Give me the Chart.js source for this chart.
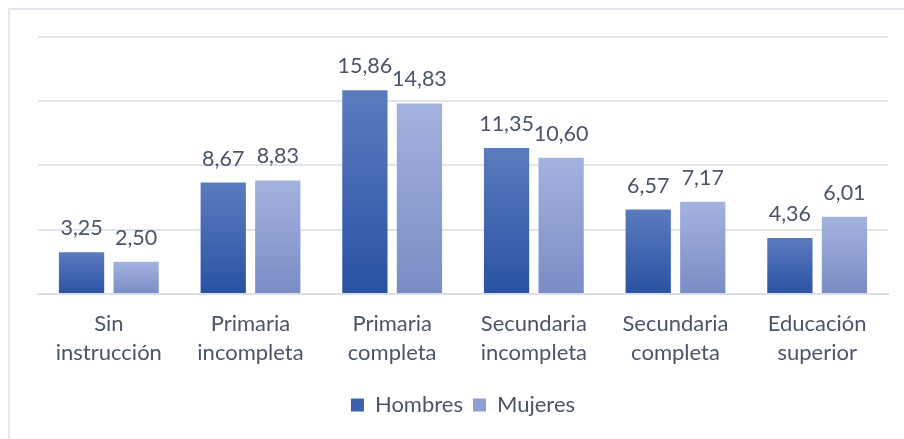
<!DOCTYPE html>
<html>
<head>
<meta charset="utf-8">
<script src="https://cdn.jsdelivr.net/npm/chart.js@4/dist/chart.umd.min.js"></script>
<style>
html,body{margin:0;padding:0;background:#fff;}
#wrap{position:relative;width:904px;height:439px;overflow:hidden;}
#frame{position:absolute;left:8px;top:8px;width:1000px;height:1000px;border:2px solid #E3E6EC;box-sizing:border-box;}
canvas{position:absolute;left:0;top:0;}
</style>
</head>
<body>
<div id="wrap"><div id="frame"></div><canvas id="c" width="904" height="439"></canvas></div>
<script>
const categories = [["Sin","instrucción"],["Primaria","incompleta"],["Primaria","completa"],["Secundaria","incompleta"],["Secundaria","completa"],["Educación","superior"]];
const hombres = [3.25, 8.67, 15.86, 11.35, 6.57, 4.36];
const mujeres = [2.50, 8.83, 14.83, 10.60, 7.17, 6.01];
const seriesNames = ["Hombres","Mujeres"];

const FONT = "Lato, 'Open Sans', sans-serif";
const TEXT = "#4A5568";

function barGradient(top, bottom){
  return function(ctx){
    const chart = ctx.chart;
    if (!chart.chartArea || ctx.type !== 'data') return bottom;
    const y = chart.scales.y;
    const y0 = y.getPixelForValue(ctx.raw);
    const y1 = y.getPixelForValue(0);
    if (!isFinite(y0) || !isFinite(y1) || y0 === y1) return bottom;
    const g = chart.ctx.createLinearGradient(0, y0, 0, y1);
    g.addColorStop(0, top);
    g.addColorStop(1, bottom);
    return g;
  };
}

const labelPlugin = {
  id: 'valueLabels',
  afterDatasetsDraw(chart){
    const c = chart.ctx;
    c.save();
    c.font = "21.5px " + FONT;
    c.fillStyle = TEXT;
    c.textAlign = 'center';
    c.textBaseline = 'alphabetic';
    chart.data.datasets.forEach((ds, di) => {
      const meta = chart.getDatasetMeta(di);
      meta.data.forEach((el, i) => {
        const v = ds.data[i];
        c.fillText(v.toFixed(2).replace('.', ','), el.x, el.y - 17);
      });
    });
    c.restore();
  }
};

new Chart(document.getElementById('c'), {
  type: 'bar',
  data: {
    labels: categories,
    datasets: [
      { label: seriesNames[0], data: hombres, backgroundColor: barGradient('#5B7BBE', '#2A52A3'), categoryPercentage: 0.77, barPercentage: 0.83 },
      { label: seriesNames[1], data: mujeres, backgroundColor: barGradient('#A3B2DE', '#7A8CC5'), categoryPercentage: 0.77, barPercentage: 0.83 }
    ]
  },
  options: {
    responsive: false,
    animation: false,
    devicePixelRatio: 1,
    layout: { padding: { left: 38, right: 16, top: 37, bottom: 13 } },
    plugins: {
      tooltip: { enabled: false },
      legend: {
        position: 'bottom',
        labels: {
          font: { family: FONT, size: 22 },
          color: TEXT,
          boxWidth: 13, boxHeight: 13,
          padding: 10,
          generateLabels(chart){
            const fills = ['#3B60AE', '#8E9FD3'];
            return chart.data.datasets.map((ds, i) => ({
              text: ds.label, fillStyle: fills[i], strokeStyle: fills[i], lineWidth: 0, datasetIndex: i, hidden: false, fontColor: TEXT
            }));
          }
        }
      }
    },
    scales: {
      x: {
        grid: { display: false, drawTicks: false },
        border: { display: true, color: '#D9DDE4', width: 2 },
        ticks: { font: { family: FONT, size: 22, lineHeight: 1.32 }, color: TEXT, padding: 15, maxRotation: 0, autoSkip: false },
        afterFit(scale){ scale.height += 2; }
      },
      y: {
        min: 0, max: 20,
        ticks: { display: false, stepSize: 5 },
        grid: { color: '#E1E4EA', lineWidth: 2, drawTicks: false },
        border: { display: false }
      }
    }
  },
  plugins: [labelPlugin]
});
</script>
</body>
</html>
